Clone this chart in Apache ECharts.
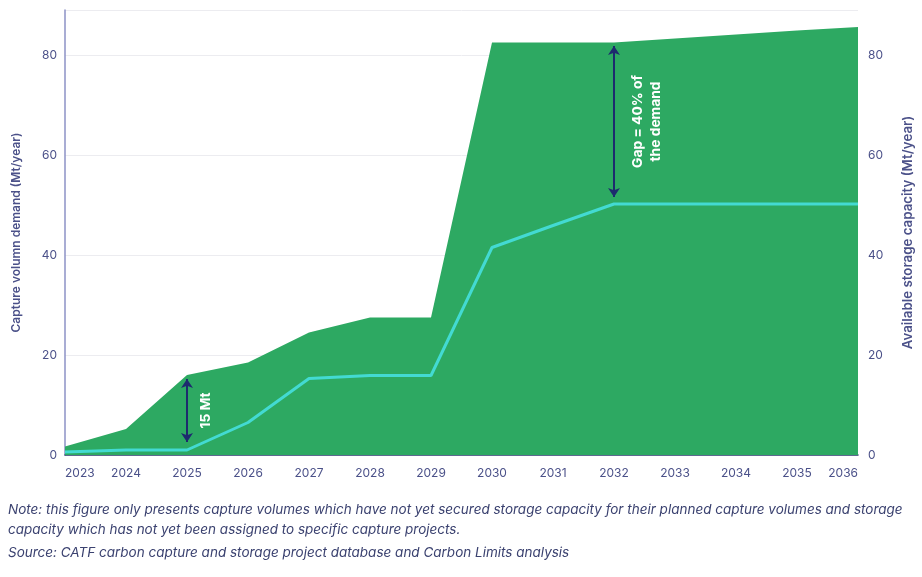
<!DOCTYPE html>
<html><head><meta charset="utf-8">
<script src="https://cdn.jsdelivr.net/npm/echarts@6/dist/echarts.min.js"></script>
<style>html,body{margin:0;padding:0;background:#fff}#c{width:922px;height:577px}</style>
</head><body><div id="c"></div>
<script>
const years = ['2023','2024','2025','2026','2027','2028','2029','2030','2031','2032','2033','2034','2035','2036'];
const demand = [1.7, 5.2, 16, 18.5, 24.5, 27.5, 27.5, 82.5, 82.5, 82.5, 83.3, 84.1, 84.9, 85.6];
const storage = [0.6, 1.0, 1.0, 6.5, 15.3, 15.9, 15.9, 41.5, 45.9, 50.2, 50.2, 50.2, 50.2, 50.2];
const arrow15 = [['2025', 2.6], ['2025', 15.2]];
const arrowGap = [['2032', 51.6], ['2032', 81.8]];
const noteLines = [
  'Note: this figure only presents capture volumes which have not yet secured storage capacity for their planned capture volumes and storage',
  'capacity which has not yet been assigned to specific capture projects.'
];
const sourceLine = 'Source: CATF carbon capture and storage project database and Carbon Limits analysis';

const FONT = 'Inter, "Noto Sans", sans-serif';
const LBL = '#4b5189';
const NAVY = '#1d2b6e';
const chart = echarts.init(document.getElementById('c'));
const yAxisCommon = {
  type: 'value', min: 0, max: 89, interval: 20,
  axisLabel: { color: LBL, fontFamily: FONT, fontSize: 12, showMaxLabel: false },
  axisTick: { show: false },
  nameLocation: 'middle'
};
chart.setOption({
  animation: false,
  grid: { left: 65, right: 57, top: 10, bottom: 122 },
  xAxis: {
    type: 'category', data: years, boundaryGap: false,
    axisLine: { lineStyle: { color: '#2f3e70', width: 1.5 } },
    axisTick: { show: false },
    axisLabel: { color: LBL, fontFamily: FONT, fontSize: 12, margin: 12, alignMinLabel: 'left', alignMaxLabel: 'right', interval: 0 }
  },
  yAxis: [
    Object.assign({}, yAxisCommon, {
      position: 'left', name: 'Capture volumn demand (Mt/year)', nameGap: 43,
      nameTextStyle: { color: LBL, fontFamily: FONT, fontSize: 12, fontWeight: 600 },
      axisLine: { show: true, lineStyle: { color: '#8d92c6', width: 1.5 } },
      axisLabel: Object.assign({}, yAxisCommon.axisLabel, { margin: 8 }),
      splitLine: { show: true, lineStyle: { color: '#ececf0', width: 1 } }
    }),
    Object.assign({}, yAxisCommon, {
      position: 'right', name: 'Available storage capacity (Mt/year)', nameGap: 43,
      nameTextStyle: { color: LBL, fontFamily: FONT, fontSize: 13.3, fontWeight: 600 },
      axisLine: { show: false },
      axisLabel: Object.assign({}, yAxisCommon.axisLabel, { margin: 10 }),
      splitLine: { show: false }
    })
  ],
  series: [
    {
      type: 'line', name: 'demand', data: demand, symbol: 'none', z: 1,
      lineStyle: { width: 0 },
      areaStyle: { color: '#2da962', opacity: 1 },
      markLine: {
        silent: true, symbol: ['arrow', 'arrow'], symbolSize: [9, 9],
        lineStyle: { color: NAVY, width: 2, type: 'solid' },
        label: { show: true, position: 'middle', verticalAlign: 'top', color: '#fff', fontFamily: FONT, fontSize: 13.8, fontWeight: 'bold', distance: -10, lineHeight: 18 },
        data: [
          [{ coord: arrow15[0], label: { formatter: '15 Mt' } }, { coord: arrow15[1] }],
          [{ coord: arrowGap[0], label: { formatter: 'Gap = 40% of\nthe demand', distance: -15 } }, { coord: arrowGap[1] }]
        ]
      }
    },
    {
      type: 'line', name: 'storage', data: storage, symbol: 'none', z: 3,
      lineStyle: { color: '#43dad2', width: 3 }
    }
  ],
  graphic: [
    { type: 'text', left: 8, top: 500, style: { text: noteLines.join('\n'), fill: '#3b4270', font: 'italic 13.5px ' + FONT, lineHeight: 20 } },
    { type: 'text', left: 8, top: 546, style: { text: sourceLine, fill: '#3b4270', font: 'italic 13.5px ' + FONT } }
  ]
});
</script>
</body></html>
